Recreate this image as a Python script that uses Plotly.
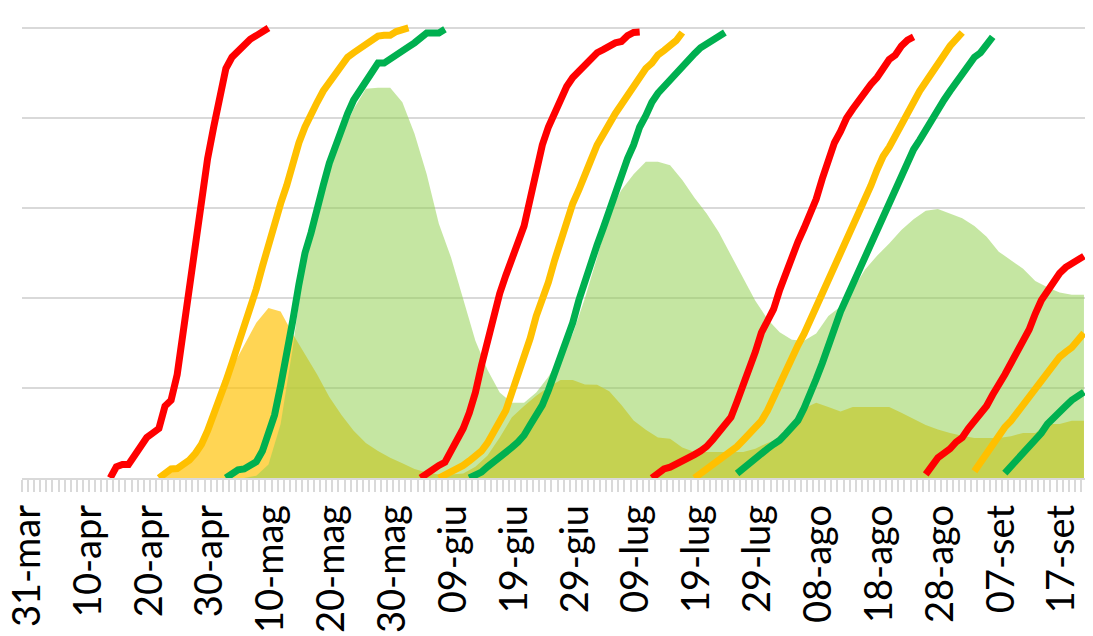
import plotly.graph_objects as go

# ---- categories / tick labels (day offsets from 31-mar) ----
LABEL_DAYS = [0, 10, 20, 30, 40, 50, 60, 70, 80, 90, 100, 110, 120, 130, 140, 150, 160, 170]
LABELS = ["31-mar", "10-apr", "20-apr", "30-apr", "10-mag", "20-mag", "30-mag", "09-giu",
          "19-giu", "29-giu", "09-lug", "19-lug", "29-lug", "08-ago", "18-ago", "28-ago",
          "07-set", "17-set"]
N_DAYS = 175

# ---- area series (sampled every 2 days) ----
AREA_DAYS = list(range(0, 175, 2))
GREEN_AREA = [0] * 19 + [
    0.5, 3, 12, 29, 49, 60, 69, 76, 82, 86.5,
    86.7, 86.7, 83.5, 76.5, 67.5, 56.5, 49, 40, 30.5, 24,
    19, 16.7, 16.7, 19, 22.5, 27, 32, 40, 49, 59,
    64, 67.5, 70.3, 70.3, 69.5, 66.2, 62.3, 58.8, 54.6, 49.5,
    44.6, 39.4, 35.3, 32.4, 30.7, 30.5, 32.1, 36, 38.1, 41.8,
    46.3, 49.4, 52.1, 55.1, 57.5, 59.4, 59.8, 58.7, 57.7, 56,
    53.6, 50.3, 48.4, 46.5, 43.8, 42.4, 41.2, 40.7, 40.7]
YELLOW_AREA = [0] * 12 + [
    1.2, 3.5, 6.5, 11, 18, 24.5, 29.5, 34.5, 37.8, 37,
    32, 27.5, 23, 18, 14, 10.5, 7.8, 6, 4.5, 3.3,
    2, 1.2, 0.8, 0.8, 1, 2.5, 5, 9, 13.5, 16,
    18.3, 20.2, 21.8, 21.8, 20.8, 20.7, 19.3, 16.2, 12.8, 10.7,
    9, 8.7, 6.8, 5.8, 5.8, 5.8, 5.8, 5.8, 6.5, 7.8,
    8.8, 10.6, 15.5, 16.7, 15.8, 14.8, 15.8, 15.8, 15.8, 15.8,
    14.5, 13.2, 11.8, 10.8, 10, 9.4, 8.9, 8.9, 8.9, 9.3,
    10, 10, 12, 12, 12.7, 12.7]

# ---- cumulative line series: (start day, consecutive daily values) ----
RED_SEGMENTS = [
    (14, [0, 2.5, 3, 3, 5, 7, 9, 10, 11, 16, 17.3, 23, 33, 42, 51, 62, 71, 78, 85, 91,
          93.5, 95, 96.5, 97.5, 98.3, 99.1, 100]),
    (65, [0, 1, 2, 2.8, 3.5, 6, 8.5, 11, 14.5, 19, 25, 30.5, 35, 41, 45, 48.5, 52, 56, 62,
          68, 74, 78, 81, 84, 87, 89, 90.5, 92, 93.5, 94.5, 95.2, 96, 96.7, 97, 98.3, 99, 99.1]),
    (103, [0, 1, 2, 2.4, 3, 3.8, 4.6, 5.2, 6, 7, 8.5, 10, 11.5, 13.5, 17, 20.5, 24.5, 28,
           32.3, 35, 37.5, 41.8, 45.5, 49.3, 52.5, 55.5, 58.5, 62, 66.5, 71, 74.5, 77, 80,
           82, 84, 86, 87.5, 89, 91, 93, 94, 96, 97.3, 98]),
    (148, [0.8, 3, 4.5, 5.5, 6.5, 8, 9, 11, 12.5, 14, 16, 18.5, 20.5, 23, 25.5, 28, 30, 33,
           36.5, 39.5, 41.5, 43.5, 45.5, 46.8, 47.7, 48.5, 49.3]),
]
ORANGE_SEGMENTS = [
    (22, [0, 1.2, 2, 2.1, 3, 4, 5.5, 7.5, 10.5, 14, 17.3, 21.5, 25.5, 29.5, 33, 37, 42, 47,
          52, 56.5, 61, 65, 70, 74.5, 78, 81, 83.5, 86, 88, 90, 92, 93.5, 94.5, 95.5, 96.3,
          97.2, 98.2, 98.4, 98.4, 99.2, 99.7, 100]),
    (68, [0, 0.6, 1.2, 2, 2.8, 3.8, 4.8, 6, 7.8, 10, 12.2, 15, 19, 23, 26.5, 31, 36, 39.3,
          43.5, 48.3, 53, 57, 61, 64, 67, 70.7, 74, 76.5, 79.3, 81, 83, 85, 87, 89.5, 91,
          92.2, 94, 95, 96, 97.2, 99]),
    (110, [0, 1, 1.8, 2.9, 4, 5, 6, 7, 8.4, 9.8, 11.3, 12.7, 15, 18, 20.2, 23.5, 27, 29.5,
           32, 34.7, 38, 41, 44, 46.5, 49.5, 52.5, 55.8, 59, 61.5, 65, 68.5, 71.5, 73.5, 76,
           79, 81.5, 84, 86, 88, 89.8, 92, 94, 96, 97.3, 99]),
    (156, [1.5, 3.5, 5.5, 7.8, 9.7, 11.3, 12.7, 14.5, 16.2, 17.9, 19.8, 21.8, 23.3, 25.3,
           26.9, 28, 29, 30.6, 32.2]),
]
GREEN_SEGMENTS = [
    (33, [0, 1, 1.8, 2, 2.8, 3.6, 6, 10, 14, 20.5, 27, 35, 43, 50, 54.5, 60.5, 65, 70, 74,
          77.5, 81, 84, 86.2, 88.5, 90.5, 92.2, 92.2, 93, 94, 95, 95.8, 96.7, 98, 98.9, 98.9,
          98.9, 99.7]),
    (73, [0, 0.7, 1.3, 2.5, 3.5, 4.5, 5.5, 6.8, 8, 9.5, 11.8, 14, 16.2, 19.5, 23, 27, 30.5,
          34.5, 39.5, 44, 48, 51.8, 55.5, 59.5, 63.5, 67.5, 71, 74, 78, 80.5, 83.5, 85.5, 87,
          88.8, 90, 91.5, 93.3, 94.3, 95.6, 96.5, 97.3, 98.1, 99]),
    (117, [1, 2.2, 3.2, 4.2, 5.4, 6.5, 7.5, 8.4, 9.8, 11.2, 12.8, 15.5, 18.5, 22, 25.5, 29.5,
           33.5, 37, 40, 43, 46, 49.5, 52, 55.5, 58.5, 61.5, 64.5, 67.5, 70.5, 73, 75.1, 77.5,
           79.5, 82, 84, 86, 87.8, 90, 92, 93.5, 94.5, 96.3, 98]),
    (161, [1.1, 2.5, 4, 5.5, 7, 8.2, 10, 12, 13.5, 15, 16, 17.3, 18.2, 19.1]),
]

RED = "#FF0000"
ORANGE = "#FFC000"
GREEN = "#00B050"


def segments_to_xy(segments):
    xs, ys = [], []
    for start, vals in segments:
        xs += [start + i for i in range(len(vals))] + [None]
        ys += list(vals) + [None]
    return xs, ys


fig = go.Figure()

fig.add_trace(go.Scatter(x=AREA_DAYS, y=YELLOW_AREA, mode="lines", fill="tozeroy",
                         line=dict(width=0, color="rgba(255,192,0,0)"),
                         fillcolor="rgba(255,192,0,0.67)", hoverinfo="skip", showlegend=False))
fig.add_trace(go.Scatter(x=AREA_DAYS, y=GREEN_AREA, mode="lines", fill="tozeroy",
                         line=dict(width=0, color="rgba(146,208,80,0)"),
                         fillcolor="rgba(146,208,80,0.53)", hoverinfo="skip", showlegend=False))

for segs, col in [(RED_SEGMENTS, RED), (ORANGE_SEGMENTS, ORANGE), (GREEN_SEGMENTS, GREEN)]:
    xs, ys = segments_to_xy(segs)
    fig.add_trace(go.Scatter(x=xs, y=ys, mode="lines", connectgaps=False,
                             line=dict(color=col, width=7), showlegend=False))

# the page adds an 8px body margin, so the figure is 8px smaller than the window
fig.update_layout(
    width=1085, height=628,
    margin=dict(l=14, r=6, t=0, b=158),
    paper_bgcolor="white", plot_bgcolor="white",
    font=dict(family="Lato", color="black"),
    xaxis=dict(
        range=[-0.5, N_DAYS - 0.5],
        tickmode="array", tickvals=[d + 0.4 for d in LABEL_DAYS], ticktext=LABELS,
        tickangle=-90, tickfont=dict(family="Lato", size=38, color="black"),
        ticks="", showgrid=False, zeroline=False,
        showline=True, linecolor="#d9d9d9", linewidth=1.5,
        ticklabelstandoff=10, ticklabeloverflow="allow", automargin=False,
        minor=dict(ticks="outside", tick0=-0.5, dtick=1, ticklen=12,
                   tickcolor="#d9d9d9", tickwidth=1.5, showgrid=False),
    ),
    yaxis=dict(
        range=[0, 104.44], tick0=0, dtick=20,
        showticklabels=False, ticks="", automargin=False,
        showgrid=True, gridcolor="#d9d9d9", gridwidth=1.5,
        zeroline=False, showline=False,
    ),
)

fig.write_html("out.html")
